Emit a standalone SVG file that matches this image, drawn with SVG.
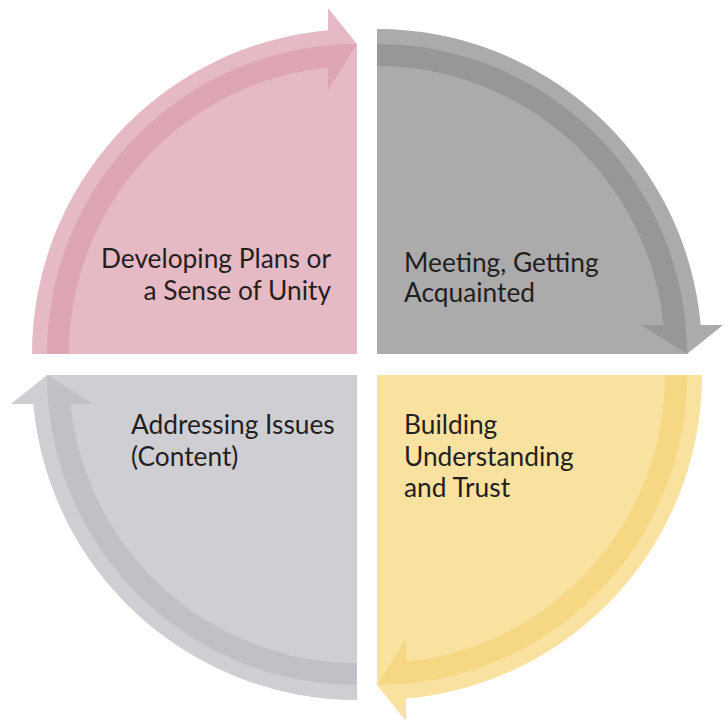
<svg xmlns="http://www.w3.org/2000/svg" xmlns:xlink="http://www.w3.org/1999/xlink" width="728" height="724" viewBox="0 0 728 724">
<style>
text{font-family:Lato,"Open Sans","Liberation Sans",sans-serif;font-size:26.3px;fill:#231F20}
.r{text-anchor:end}
.pinkP{fill:#E6BAC4}.pinkD{fill:#DEA6B3}
.grayP{fill:#ABABAB}.grayD{fill:#979797}
.yelP{fill:#F9E1A0}.yelD{fill:#F6D784}
.lgP{fill:#CECED3}.lgD{fill:#C0C0C6}
</style>
<defs>
<path id="pie" d="M0 0 L-310 0 A310 310 0 0 1 0 -310 Z"/>
<path id="arr" d="M-325 0 A325 325 0 0 1 -29 -323.7 L-29 -346 L0 -310 L-29 -264 L-29 -286.5 A288 288 0 0 0 -288 0 Z"/>
<clipPath id="pc"><use xlink:href="#pie"/></clipPath>
</defs>
<g id="connectors"/>
<g id="node-developing">
<g transform="translate(357,354)">
<use xlink:href="#pie" class="pinkP"/><use xlink:href="#arr" class="pinkP"/><use xlink:href="#arr" class="pinkD" clip-path="url(#pc)"/>
</g>
<text class="r" x="331" y="268">Developing Plans or</text>
<text class="r" x="331" y="300">a Sense of Unity</text>
</g>
<g id="node-meeting">
<g transform="translate(377,354) rotate(90)">
<use xlink:href="#pie" class="grayP"/><use xlink:href="#arr" class="grayP"/><use xlink:href="#arr" class="grayD" clip-path="url(#pc)"/>
</g>
<text x="404" y="272">Meeting, Getting</text>
<text x="404" y="302">Acquainted</text>
</g>
<g id="node-building">
<g transform="translate(377,375) rotate(180)">
<use xlink:href="#pie" class="yelP"/><use xlink:href="#arr" class="yelP"/><use xlink:href="#arr" class="yelD" clip-path="url(#pc)"/>
</g>
<text x="404" y="434">Building</text>
<text x="404" y="466">Understanding</text>
<text x="404" y="497">and Trust</text>
</g>
<g id="node-addressing">
<g transform="translate(357,375) rotate(270)">
<use xlink:href="#pie" class="lgP"/><use xlink:href="#arr" class="lgP"/><use xlink:href="#arr" class="lgD" clip-path="url(#pc)"/>
</g>
<text x="131" y="434">Addressing Issues</text>
<text x="131" y="466">(Content)</text>
</g>
</svg>
